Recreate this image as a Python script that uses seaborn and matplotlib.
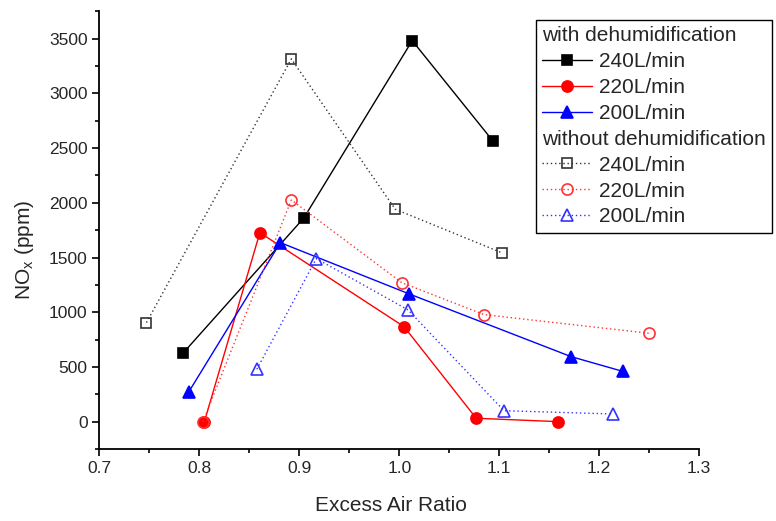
import matplotlib
matplotlib.use("Agg")
import matplotlib.pyplot as plt
from matplotlib.lines import Line2D
from matplotlib.ticker import MultipleLocator, FormatStrFormatter
import seaborn as sns

# with dehumidification
x_w240 = [0.784, 0.9045, 1.013, 1.094]
y_w240 = [630, 1861, 3482, 2562]
x_w220 = [0.805, 0.8605, 1.0048, 1.077, 1.1588]
y_w220 = [0, 1727, 868, 31, 0]
x_w200 = [0.7895, 0.881, 1.010, 1.172, 1.2235]
y_w200 = [274, 1636, 1167, 594, 460]
# without dehumidification
x_o240 = [0.747, 0.892, 0.996, 1.103]
y_o240 = [905, 3315, 1941, 1542]
x_o220 = [0.8035, 0.892, 1.0025, 1.085, 1.2498]
y_o220 = [0, 2026, 1270, 978, 808]
x_o200 = [0.8575, 0.917, 1.0088, 1.1048, 1.2138]
y_o200 = [479, 1490, 1021, 100, 70]

labels = ["240L/min", "220L/min", "200L/min"]
header_with = "with dehumidification"
header_without = "without dehumidification"

sns.set_style("ticks")
plt.rcParams["font.family"] = ["Liberation Sans", "DejaVu Sans"]
plt.rcParams["mathtext.fontset"] = "custom"
plt.rcParams["mathtext.rm"] = "Liberation Sans"
plt.rcParams["mathtext.it"] = "Liberation Sans"

fig = plt.figure(figsize=(7.76, 5.21), dpi=100)
ax = fig.add_axes([0.1282, 0.1382, 0.7726, 0.8401])

dot = (0, (1, 2))
series = [
    (x_w240, y_w240, "black", "s", "-", "black", 7),
    (x_w220, y_w220, "red", "o", "-", "red", 8),
    (x_w200, y_w200, "blue", "^", "-", "blue", 9),
    (x_o240, y_o240, "#333333", "s", dot, "none", 7),
    (x_o220, y_o220, "#ff3333", "o", dot, "none", 8),
    (x_o200, y_o200, "#3333ff", "^", dot, "none", 9),
]
handles = []
for xs, ys, col, mk, ls, fc, ms in series:
    sns.lineplot(x=xs, y=ys, ax=ax, color=col, marker=mk, linestyle=ls,
                 markerfacecolor=fc, markeredgecolor=col,
                 markersize=ms, linewidth=1.0, markeredgewidth=1.2,
                 estimator=None, sort=False, legend=False)
    handles.append(Line2D([], [], color=col, marker=mk, linestyle=ls,
                          markerfacecolor=fc, markeredgecolor=col,
                          markersize=ms, linewidth=1.0, markeredgewidth=1.2))

blank = Line2D([], [], linestyle="none", marker=None)
leg_handles = [blank] + handles[:3] + [blank] + handles[3:]
leg_labels = [header_with] + labels + [header_without] + labels
leg = ax.legend(leg_handles, leg_labels, loc="upper left",
                bbox_to_anchor=(0.728, 0.980), fontsize=15,
                frameon=True, fancybox=False, edgecolor="black",
                framealpha=1, handlelength=2.4, handletextpad=0.35,
                labelspacing=0.33, borderpad=0.3, borderaxespad=0)
leg.get_frame().set_linewidth(1.0)
leg.set_clip_on(False)
for vp in leg._legend_handle_box.get_children():
    for hp in vp.get_children():
        da, ta = hp.get_children()
        if ta.get_text() in (header_with, header_without):
            da.width = 0
            hp.sep = 0

ax.set_xlim(0.7, 1.3)
ax.set_ylim(-250, 3750)
ax.xaxis.set_major_locator(MultipleLocator(0.1))
ax.xaxis.set_minor_locator(MultipleLocator(0.05))
ax.yaxis.set_major_locator(MultipleLocator(500))
ax.yaxis.set_minor_locator(MultipleLocator(250))
ax.xaxis.set_major_formatter(FormatStrFormatter("%.1f"))
ax.tick_params(which="major", length=5, width=1.2, labelsize=12.5, color="black")
ax.tick_params(which="minor", length=3, width=1.2, color="black")
for s in ["top", "right"]:
    ax.spines[s].set_visible(False)
for s in ["left", "bottom"]:
    ax.spines[s].set_linewidth(1.3)
    ax.spines[s].set_color("black")

ax.set_xlabel("Excess Air Ratio", fontsize=15)
ax.set_ylabel(r"NO$_\mathregular{x}$ (ppm)", fontsize=15)
ax.xaxis.set_label_coords(0.486, -0.108)
ax.yaxis.set_label_coords(-0.106, 0.455)

fig.savefig("out.png", dpi=100)
